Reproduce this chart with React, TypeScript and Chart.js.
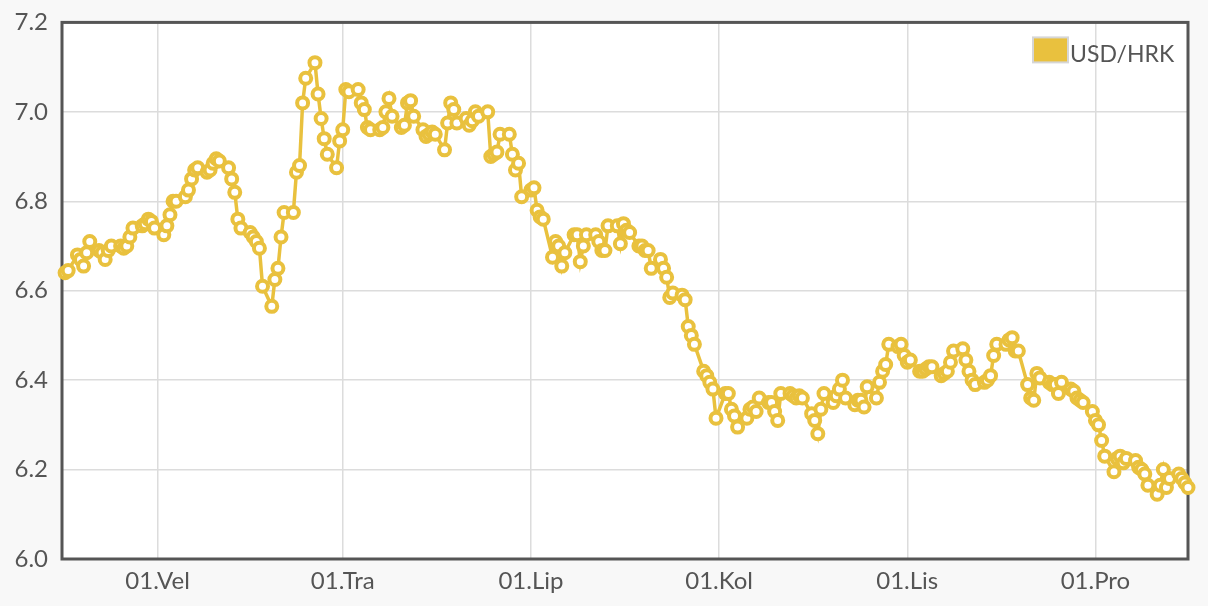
import { useEffect, useRef } from "react";
import { Chart, registerables, Plugin } from "chart.js";

Chart.register(...registerables);

// USD/HRK daily rate, 2020, one value per working day of each month
const jan = [6.64, 6.645, 6.68, 6.67, 6.655, 6.685, 6.71, 6.69, 6.685, 6.67, 6.69, 6.7, 6.7, 6.695, 6.7, 6.72, 6.74, 6.745, 6.75, 6.76, 6.755, 6.74];
const feb = [6.725, 6.745, 6.77, 6.8, 6.8, 6.81, 6.825, 6.85, 6.87, 6.875, 6.865, 6.87, 6.885, 6.895, 6.89, 6.875, 6.85, 6.82, 6.76, 6.74];
const mar = [6.73, 6.72, 6.71, 6.695, 6.61, 6.565, 6.625, 6.65, 6.72, 6.775, 6.775, 6.865, 6.88, 7.02, 7.075, 7.11, 7.04, 6.985, 6.94, 6.905, 6.875, 6.935];
const apr = [6.96, 7.05, 7.045, 7.05, 7.02, 7.005, 6.965, 6.96, 6.96, 6.965, 7.0, 7.03, 6.99, 6.965, 6.97, 7.02, 7.025, 6.99, 6.96, 6.945, 6.95, 6.955];
const may = [6.95, 6.915, 6.975, 7.02, 7.005, 6.975, 6.985, 6.97, 6.98, 7.0, 6.99, 7.0, 6.9, 6.905, 6.91, 6.95, 6.95, 6.905, 6.87, 6.885, 6.81];
const jun = [6.825, 6.83, 6.78, 6.765, 6.76, 6.675, 6.71, 6.7, 6.655, 6.685, 6.725, 6.725, 6.665, 6.7, 6.725, 6.725, 6.71, 6.69, 6.69, 6.745, 6.745, 6.705];
const jul = [6.75, 6.735, 6.73, 6.7, 6.7, 6.69, 6.69, 6.65, 6.67, 6.65, 6.63, 6.585, 6.595, 6.59, 6.58, 6.52, 6.5, 6.48, 6.42, 6.41, 6.395, 6.38, 6.315];
const aug = [6.37, 6.37, 6.335, 6.32, 6.295, 6.315, 6.335, 6.34, 6.33, 6.36, 6.35, 6.35, 6.33, 6.31, 6.37, 6.37, 6.365, 6.36, 6.365, 6.36, 6.325];
const sep = [6.31, 6.28, 6.335, 6.37, 6.35, 6.365, 6.38, 6.4, 6.36, 6.345, 6.355, 6.355, 6.34, 6.385, 6.36, 6.395, 6.42, 6.435, 6.48, 6.475, 6.48, 6.455];
const oct = [6.44, 6.445, 6.42, 6.42, 6.425, 6.43, 6.43, 6.41, 6.415, 6.42, 6.44, 6.465, 6.47, 6.445, 6.42, 6.4, 6.39, 6.395, 6.4, 6.41, 6.455, 6.48];
const nov = [6.48, 6.49, 6.495, 6.465, 6.465, 6.39, 6.36, 6.355, 6.415, 6.405, 6.395, 6.39, 6.39, 6.37, 6.395, 6.38, 6.375, 6.36, 6.355, 6.35, 6.33];
const dec = [6.31, 6.3, 6.265, 6.23, 6.195, 6.225, 6.23, 6.215, 6.225, 6.22, 6.205, 6.2, 6.19, 6.165, 6.145, 6.165, 6.2, 6.16, 6.18, 6.19, 6.18, 6.17, 6.16];

const monthValues = [jan, feb, mar, apr, may, jun, jul, aug, sep, oct, nov, dec];

// x axis ticks: day of year of the 1st of every second month
const tickDays = [31, 91, 152, 213, 274, 335];
const tickLabels = ["01.Vel", "01.Tra", "01.Lip", "01.Kol", "01.Lis", "01.Pro"];

const yTicks = [6.0, 6.2, 6.4, 6.6, 6.8, 7.0, 7.2];

const YEAR = 2020;
const SERIES = "USD/HRK";
const GOLD = "#E9C13E";
const TEXT = "#555555";
const FONT = "Lato";

// working days (Mon-Fri, not 1 Jan) of a month, as day of year
function workingDays(month: number): number[] {
  const start = Date.UTC(YEAR, 0, 1);
  const d = new Date(Date.UTC(YEAR, month, 1));
  const out: number[] = [];
  while (d.getUTCMonth() === month) {
    const wd = d.getUTCDay();
    const newYear = month === 0 && d.getUTCDate() === 1;
    if (wd !== 0 && wd !== 6 && !newYear) out.push((d.getTime() - start) / 86400000);
    d.setUTCDate(d.getUTCDate() + 1);
  }
  return out;
}

const areaBackground: Plugin<"line"> = {
  id: "areaBackground",
  beforeDraw(chart) {
    const { ctx, chartArea: a } = chart;
    ctx.save();
    ctx.fillStyle = "#ffffff";
    ctx.fillRect(a.left, a.top, a.right - a.left, a.bottom - a.top);
    ctx.restore();
  },
};

const frame: Plugin<"line"> = {
  id: "frame",
  beforeDatasetsDraw(chart) {
    const { ctx, chartArea: a } = chart;
    ctx.save();
    ctx.strokeStyle = "#555555";
    ctx.lineWidth = 3;
    ctx.strokeRect(a.left, a.top, a.right - a.left, a.bottom - a.top);
    ctx.restore();
  },
};

const cornerLegend: Plugin<"line"> = {
  id: "cornerLegend",
  afterDraw(chart) {
    const { ctx, chartArea: a } = chart;
    const label = chart.data.datasets[0].label || "";
    const bx = a.right - 155;
    const by = a.top + 15;
    ctx.save();
    ctx.fillStyle = GOLD;
    ctx.fillRect(bx, by, 35, 25);
    ctx.strokeStyle = "#d6d6d6";
    ctx.lineWidth = 2;
    ctx.strokeRect(bx, by, 35, 25);
    ctx.fillStyle = TEXT;
    ctx.font = `23px ${FONT}`;
    ctx.textAlign = "left";
    ctx.textBaseline = "alphabetic";
    ctx.fillText(label, bx + 37, by + 25);
    ctx.restore();
  },
};

const RateChart = () => {
  const canvasRef = useRef<HTMLCanvasElement | null>(null);
  const chartInstance = useRef<Chart | null>(null);

  useEffect(() => {
    if (!canvasRef.current) return;
    document.body.style.margin = "0";
    document.body.style.background = "#f8f8f8";

    const points: { x: number; y: number }[] = [];
    monthValues.forEach((values, m) => {
      const days = workingDays(m);
      values.forEach((v, i) => {
        if (i < days.length) points.push({ x: days[i], y: v });
      });
    });

    if (chartInstance.current) chartInstance.current.destroy();

    chartInstance.current = new Chart(canvasRef.current, {
      type: "line",
      data: {
        datasets: [
          {
            label: SERIES,
            data: points,
            borderColor: GOLD,
            backgroundColor: GOLD,
            borderWidth: 3.5,
            tension: 0,
            pointRadius: 5.5,
            pointBorderWidth: 4,
            pointBackgroundColor: "#ffffff",
            pointBorderColor: GOLD,
            clip: false,
          },
        ],
      },
      options: {
        animation: false,
        responsive: true,
        maintainAspectRatio: false,
        layout: { padding: { left: 0, top: 16, right: 20, bottom: 0 } },
        plugins: {
          legend: { display: false },
          tooltip: { enabled: false },
        },
        scales: {
          x: {
            type: "linear",
            min: 0,
            max: 365,
            afterBuildTicks: (axis) => {
              axis.ticks = tickDays.map((value) => ({ value }));
            },
            afterFit: (axis) => {
              axis.height = 47;
            },
            grid: { color: "#dcdcdc", lineWidth: 1.5, drawTicks: false },
            border: { display: false },
            ticks: {
              padding: 8,
              color: TEXT,
              font: { family: FONT, size: 24 },
              maxRotation: 0,
              callback: (_value, index) => tickLabels[index],
            },
          },
          y: {
            min: 6.0,
            max: 7.2,
            afterBuildTicks: (axis) => {
              axis.ticks = yTicks.map((value) => ({ value }));
            },
            afterFit: (axis) => {
              axis.width = 62;
            },
            grid: { color: "#dcdcdc", lineWidth: 1.5, drawTicks: false },
            border: { display: false },
            ticks: {
              padding: 14,
              color: TEXT,
              font: { family: FONT, size: 24 },
              callback: (value) => Number(value).toFixed(1),
            },
          },
        },
      },
      plugins: [areaBackground, frame, cornerLegend],
    });

    return () => {
      if (chartInstance.current) {
        chartInstance.current.destroy();
        chartInstance.current = null;
      }
    };
  }, []);

  return (
    <div style={{ position: "relative", top: -6, width: 1208, height: 612 }}>
      <canvas ref={canvasRef} />
    </div>
  );
};

export default function App() {
  return <RateChart />;
}
